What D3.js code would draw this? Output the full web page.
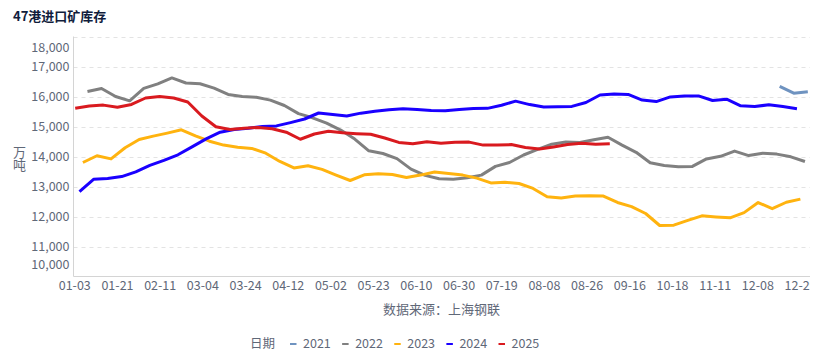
<!DOCTYPE html>
<html>
<head>
<meta charset="utf-8">
<script src="https://cdn.jsdelivr.net/npm/d3@7"></script>
<style>
  html, body { margin: 0; padding: 0; background: #fff; }
  svg { display: block; font-family: "Noto Sans CJK SC", "Noto Sans", sans-serif; }
</style>
</head>
<body>
<svg id="chart" width="827" height="356"></svg>
<script>
// ---------- data ----------
const title = "47港进口矿库存";
const yUnit = "万吨";
const sourceText = "数据来源：上海钢联";
const legendTitle = "日期";
const xTickLabels = ["01-03","01-21","02-11","03-04","03-24","04-12","05-02","05-23","06-10","06-30","07-19","08-08","08-26","09-16","10-18","11-11","12-08","12-29"];
const yTicks = [10000, 11000, 12000, 13000, 14000, 15000, 16000, 17000, 18000];
const seriesNames = ["2021", "2022", "2023", "2024", "2025"];
// weekly observations; start = position of first week on the category axis (in label intervals)
const weekStep = 0.3295;
const seriesStart = [16.51, 0.297, 0.19, 0.11, 0.01];
const v2021 = [16340, 16110, 16160];
const v2022 = [16167, 16267, 16000, 15855, 16270, 16420, 16620, 16450, 16425, 16280,
               16070, 16000, 15975, 15880, 15700, 15430, 15290, 15110, 14880, 14580,
               14190, 14100, 13930, 13580, 13370, 13260, 13240, 13290, 13380, 13670,
               13800, 14050, 14240, 14410, 14480, 14465, 14560, 14640, 14380, 14140,
               13790, 13700, 13660, 13670, 13920, 14005, 14180, 14030, 14110, 14080,
               13990, 13833];
const v2023 = [13800, 14025, 13920, 14290, 14565, 14680, 14780, 14890, 14690, 14510,
               14380, 14310, 14270, 14110, 13835, 13620, 13690, 13570, 13380, 13200,
               13390, 13423, 13400, 13300, 13380, 13485, 13435, 13380, 13280, 13120,
               13143, 13100, 12935, 12660, 12620, 12680, 12695, 12680, 12467, 12330,
               12100, 11700, 11710, 11870, 12023, 11985, 11955, 12130, 12465, 12260,
               12475, 12580];
const v2024 = [12830, 13240, 13270, 13330, 13490, 13703, 13870, 14057, 14320, 14587,
               14810, 14903, 14940, 15000, 15020, 15130, 15250, 15450, 15400, 15350,
               15445, 15505, 15560, 15593, 15570, 15530, 15525, 15565, 15600, 15605,
               15710, 15845, 15730, 15650, 15655, 15670, 15800, 16050, 16083, 16070,
               15880, 15830, 15985, 16015, 16020, 15867, 15910, 15690, 15665, 15725,
               15665, 15595];
const v2025 = [15610, 15680, 15713, 15640, 15735, 15950, 16000, 15950, 15815, 15350,
               14990, 14900, 14940, 14970, 14925, 14810, 14575, 14750, 14840, 14790,
               14760, 14740, 14615, 14470, 14425, 14490, 14440, 14478, 14480, 14380,
               14380, 14397, 14300, 14250, 14320, 14400, 14440, 14405, 14423];
const seriesValues = [v2021, v2022, v2023, v2024, v2025];
const seriesColors = ["#6f93c0", "#808080", "#ffb30f", "#1a00ff", "#d91a1f"];

// ---------- layout ----------
const svg = d3.select("#chart");
const plot = { left: 73.5, right: 810, top: 36.5, bottom: 276.5 };

const x = d3.scaleLinear().domain([-0.03, 17.22]).range([plot.left, plot.right]);
const y = d3.scaleLinear().domain([10000, 18000]).range([plot.bottom, plot.top]);
const labelColor = "#5f6878";

// title
svg.append("text").attr("x", 13).attr("y", 21)
  .attr("font-size", 13).attr("font-weight", "bold").attr("fill", "#111d3c")
  .text(title);

// grid lines
svg.append("g").selectAll("line").data(yTicks.filter(d => d > 10000)).join("line")
  .attr("x1", plot.left).attr("x2", plot.right)
  .attr("y1", d => Math.round(y(d)) + 0.5).attr("y2", d => Math.round(y(d)) + 0.5)
  .attr("stroke", "#e3e3e3").attr("stroke-width", 1).attr("stroke-dasharray", "4,4");

// axis lines
svg.append("line").attr("x1", plot.left).attr("x2", plot.left)
  .attr("y1", plot.top).attr("y2", plot.bottom).attr("stroke", "#d4d4d4");
svg.append("line").attr("x1", plot.left).attr("x2", plot.right)
  .attr("y1", plot.bottom).attr("y2", plot.bottom).attr("stroke", "#d4d4d4");

// y labels (min/max labels nudged inward)
svg.append("g").selectAll("text").data(yTicks).join("text")
  .attr("x", 69.5)
  .attr("y", d => y(d) + (d === 18000 ? 11 : d === 10000 ? -12 : 0))
  .attr("dy", "0.35em").attr("text-anchor", "end")
  .attr("font-size", 12.5).attr("fill", labelColor)
  .text(d => d3.format(",")(d));

// y unit (vertical)
svg.append("text").attr("x", 19.5).attr("y", 145.5)
  .attr("font-size", 13).attr("fill", labelColor)
  .style("writing-mode", "vertical-rl").style("text-orientation", "upright")
  .text(yUnit);

// x labels (clipped at plot right edge)
svg.append("clipPath").attr("id", "xclip").append("rect")
  .attr("x", 0).attr("y", 0).attr("width", plot.right).attr("height", 356);
svg.append("g").attr("clip-path", "url(#xclip)")
  .selectAll("text").data(xTickLabels).join("text")
  .attr("x", (d, i) => x(i)).attr("y", 290)
  .attr("text-anchor", "middle").attr("font-size", 12.5).attr("fill", labelColor)
  .text(d => d);

// source
svg.append("text").attr("x", 441.5).attr("y", 314)
  .attr("text-anchor", "middle").attr("font-size", 13).attr("fill", labelColor)
  .text(sourceText);

// lines
const line = d3.line()
  .x(d => x(d.pos)).y(d => y(d.value));
const gLines = svg.append("g");
seriesNames.forEach((name, s) => {
  const pts = seriesValues[s].map((v, i) => ({ pos: seriesStart[s] + i * weekStep, value: v }));
  gLines.append("path").datum(pts)
    .attr("d", line).attr("fill", "none")
    .attr("stroke", seriesColors[s]).attr("stroke-width", 3)
    .attr("stroke-linejoin", "round").attr("stroke-linecap", "butt");
});

// legend
const legY = 344;
svg.append("text").attr("x", 250).attr("y", legY).attr("dy", "0.35em")
  .attr("font-size", 12.5).attr("fill", labelColor).text(legendTitle);
const legX = d3.scalePoint().domain(seriesNames).range([290, 498.5]);
const leg = svg.append("g").selectAll("g").data(seriesNames).join("g")
  .attr("transform", d => `translate(${legX(d)},${legY})`);
leg.append("line").attr("x1", 0).attr("x2", 6.5).attr("y1", 0).attr("y2", 0)
  .attr("stroke", (d, i) => seriesColors[i]).attr("stroke-width", 2);
leg.append("text").attr("x", 13).attr("dy", "0.35em")
  .attr("font-size", 12.5).attr("fill", labelColor).text(d => d);
</script>
</body>
</html>
